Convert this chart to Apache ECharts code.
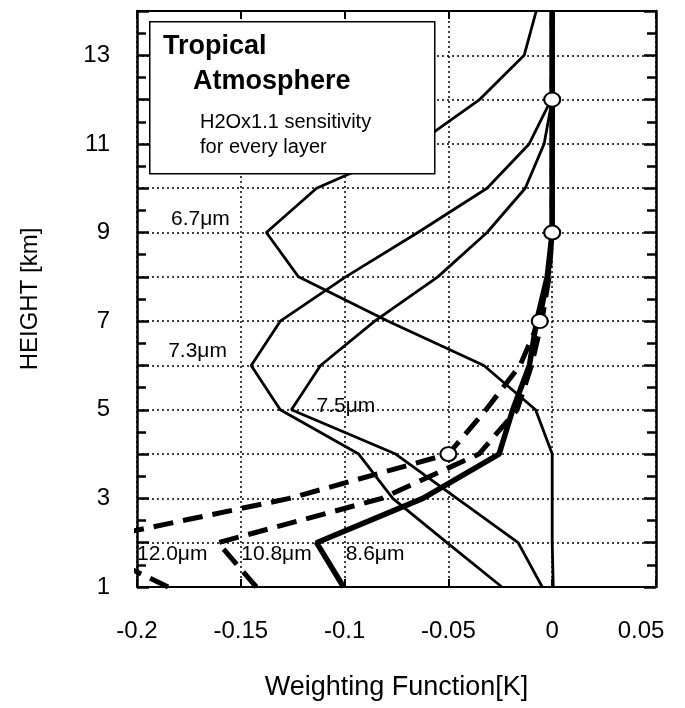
<!DOCTYPE html>
<html>
<head>
<meta charset="utf-8">
<script src="https://cdn.jsdelivr.net/npm/echarts@6/dist/echarts.min.js"></script>
<style>
  html, body { margin: 0; padding: 0; background: #fff; }
  #chart { width: 685px; height: 708px; }
</style>
</head>
<body>
<div id="chart"></div>
<script>
// layer heights [km]
const heights = [1, 2, 3, 4, 5, 6, 7, 8, 9, 10, 11, 12, 13, 14];

// weighting function [K] per channel, one value per height above
const wf67  = [0.0005, 0, 0, 0, -0.008, -0.0329, -0.079, -0.1222, -0.1377, -0.1135, -0.065, -0.035, -0.0135, -0.0077];
const wf73  = [-0.0242, -0.0507, -0.0768, -0.0932, -0.131, -0.145, -0.131, -0.0995, -0.0647, -0.0314, -0.0111, -0.0005, 0, 0];
const wf75  = [-0.0048, -0.0164, -0.0459, -0.0754, -0.1256, -0.1116, -0.0855, -0.0551, -0.0314, -0.013, -0.0039, 0, 0, 0];
const wf86  = [-0.1005, -0.1135, -0.0623, -0.0256, -0.019, -0.011, -0.0075, -0.0024, 0, 0, 0, 0, 0, 0];
const wf108 = [-0.1425, -0.161, -0.0821, -0.0353, -0.0169, -0.010, -0.005, -0.0015, 0, 0, 0, 0, 0, 0];
const wf120 = [-0.185, -0.229, -0.1266, -0.05, -0.0319, -0.0155, -0.0063, -0.002, 0, 0, 0, 0, 0, 0];

// open circles
const peakX = [0, 0, -0.006, -0.05];
const peakH = [12, 9, 7, 4];

// channel labels (anchored at their left edge, in data units)
const labelNames = ['6.7μm', '7.3μm', '7.5μm', '12.0μm', '10.8μm', '8.6μm'];
const labelX = [-0.1836, -0.185, -0.1135, -0.2, -0.1498, -0.0995];
const labelH = [9.31, 6.33, 5.09, 1.745, 1.745, 1.745];

const FONT = '"Liberation Sans", Arial, Helvetica, sans-serif';

function pairs(xs) {
  return xs.map((x, i) => [x, heights[i]]);
}

function initChart() {
  const chart = echarts.init(document.getElementById('chart'));

  const gridDots = { color: '#000', width: 1.5, type: [2, 3] };
  const axisBlack = { color: '#000', width: 2 };

  const xCommon = {
    type: 'value', min: -0.2, max: 0.05, interval: 0.05,
    axisLine: { show: true, onZero: false, lineStyle: axisBlack },
    axisTick: { show: true, inside: true, length: 8, lineStyle: axisBlack }
  };
  const yCommon = {
    type: 'value', min: 1, max: 14, interval: 1,
    axisLine: { show: true, onZero: false, lineStyle: { color: '#000', width: 2.5 } },
    axisTick: { show: true, inside: true, length: 12, lineStyle: { color: '#000', width: 2.5 } },
    minorTick: { show: true, splitNumber: 2, length: 9, lineStyle: { color: '#000', width: 2.5 } }
  };

  const thin = { color: '#000', width: 2.8 };
  const tickFont = { color: '#000', fontSize: 24, fontFamily: FONT };

  const option = {
    animation: false,
    backgroundColor: '#fff',
    grid: { left: 137, right: 29, top: 11, bottom: 121 },
    xAxis: [
      Object.assign({}, xCommon, {
        position: 'bottom',
        axisLabel: Object.assign({}, tickFont, {
          margin: 32,
          // last label sits a bit left of its tick, like the original
          formatter: v => Math.abs(v - 0.05) < 1e-9 ? '{m|0.05}' : String(v),
          rich: { m: Object.assign({}, tickFont, { padding: [0, 30, 0, 0] }) }
        }),
        splitLine: { show: true, lineStyle: gridDots },
        name: 'Weighting Function[K]',
        nameLocation: 'middle',
        nameGap: 87,
        nameTextStyle: { color: '#000', fontSize: 27, fontFamily: FONT }
      }),
      Object.assign({}, xCommon, {
        position: 'top',
        axisLabel: { show: false },
        splitLine: { show: false }
      })
    ],
    yAxis: [
      Object.assign({}, yCommon, {
        position: 'left',
        axisLabel: Object.assign({}, tickFont, {
          margin: 27,
          formatter: v => (v % 2 === 1 && v < 14) ? String(v) : ''
        }),
        splitLine: { show: true, lineStyle: gridDots },
        name: 'HEIGHT [km]',
        nameLocation: 'middle',
        nameRotate: 90,
        nameGap: 95,
        nameTextStyle: { color: '#000', fontSize: 24, fontFamily: FONT }
      }),
      Object.assign({}, yCommon, {
        position: 'right',
        axisLabel: { show: false },
        splitLine: { show: false }
      })
    ],
    series: [
      { name: '6.7μm', type: 'line', data: pairs(wf67), symbol: 'none', lineStyle: thin, z: 3 },
      { name: '7.3μm', type: 'line', data: pairs(wf73), symbol: 'none', lineStyle: thin, z: 3 },
      { name: '7.5μm', type: 'line', data: pairs(wf75), symbol: 'none', lineStyle: thin, z: 3 },
      { name: '8.6μm', type: 'line', data: pairs(wf86), symbol: 'none', lineStyle: { color: '#000', width: 5.5 }, z: 4 },
      { name: '10.8μm', type: 'line', data: pairs(wf108), symbol: 'none',
        lineStyle: { color: '#000', width: 5, type: [20, 10], cap: 'butt' }, z: 4 },
      { name: '12.0μm', type: 'line', data: pairs(wf120), symbol: 'none',
        lineStyle: { color: '#000', width: 5, type: [20, 10], cap: 'butt' }, z: 4 },
      {
        name: 'peaks', type: 'scatter', z: 6,
        data: peakX.map((x, i) => [x, peakH[i]]),
        symbol: 'circle', symbolSize: [16, 14],
        itemStyle: { color: '#fff', borderColor: '#000', borderWidth: 2, opacity: 1 }
      },
      {
        name: 'labels', type: 'scatter', z: 7, silent: true,
        data: labelNames.map((n, i) => ({ value: [labelX[i], labelH[i]], name: n })),
        symbolSize: 0,
        itemStyle: { opacity: 1 },
        label: {
          show: true, position: 'right', distance: 0,
          formatter: p => p.name,
          color: '#000', fontSize: 21, fontFamily: FONT
        }
      }
    ],
    graphic: {
      elements: [
        {
          type: 'rect', left: 149, top: 21, z: 100,
          shape: { width: 285, height: 152 },
          style: { fill: '#fff', stroke: '#000', lineWidth: 1.5 }
        },
        { type: 'text', left: 163, top: 33, z: 101,
          style: { text: 'Tropical', font: 'bold 27px ' + FONT, fill: '#000' } },
        { type: 'text', left: 193, top: 68, z: 101,
          style: { text: 'Atmosphere', font: 'bold 27px ' + FONT, fill: '#000' } },
        { type: 'text', left: 200, top: 112, z: 101,
          style: { text: 'H2Ox1.1 sensitivity', font: '20px ' + FONT, fill: '#000' } },
        { type: 'text', left: 200, top: 137, z: 101,
          style: { text: 'for every layer', font: '20px ' + FONT, fill: '#000' } }
      ]
    }
  };

  chart.setOption(option);
  window.addEventListener('resize', () => chart.resize());
}

window.addEventListener('load', initChart);
</script>
</body>
</html>
